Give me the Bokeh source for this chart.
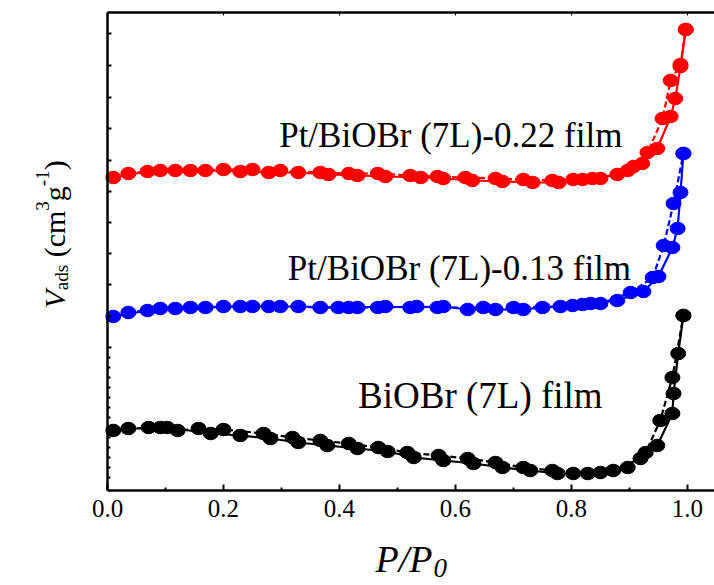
import math
from bokeh.plotting import figure
from bokeh.models import Range1d, LinearAxis, FixedTicker, Label, PrintfTickFormatter, CustomJSTickFormatter
from bokeh.embed import file_html
from bokeh.resources import INLINE

# ---------------- data (P/P0, V_ads in arbitrary units) ----------------
red_ads_x = [0.010, 0.069, 0.117, 0.169, 0.229, 0.278, 0.329, 0.381, 0.431, 0.479, 0.540, 0.579,
             0.629, 0.681, 0.733, 0.778, 0.819, 0.850, 0.897, 0.922, 0.948, 0.971, 0.979, 0.988, 0.997]
red_ads_y = [31.3, 31.9, 32.0, 32.0, 31.9, 31.8, 31.8, 31.6, 31.5, 31.4, 31.3, 31.2,
             31.0, 30.9, 30.8, 30.8, 31.1, 31.2, 32.0, 32.7, 34.2, 37.4, 39.2, 42.4, 46.1]
red_des_x = [0.036, 0.091, 0.143, 0.200, 0.250, 0.298, 0.367, 0.416, 0.466, 0.522, 0.569, 0.617,
             0.669, 0.717, 0.767, 0.803, 0.836, 0.879, 0.907, 0.931, 0.957, 0.971, 0.988, 0.997]
red_des_y = [31.7, 32.0, 32.0, 32.1, 32.1, 32.0, 31.8, 31.7, 31.7, 31.5, 31.4, 31.3,
             31.2, 31.1, 31.0, 31.1, 31.2, 31.6, 32.4, 33.8, 37.2, 41.0, 42.6, 46.1]

blue_ads_x = [0.010, 0.069, 0.117, 0.169, 0.229, 0.278, 0.329, 0.398, 0.431, 0.479, 0.522, 0.579,
              0.621, 0.669, 0.717, 0.750, 0.802, 0.833, 0.879, 0.924, 0.950, 0.974, 0.983, 0.988, 0.993]
blue_ads_y = [17.4, 18.0, 18.2, 18.3, 18.4, 18.4, 18.4, 18.3, 18.3, 18.4, 18.3, 18.4,
              18.1, 18.1, 18.1, 18.3, 18.5, 18.7, 19.0, 19.9, 21.4, 24.3, 26.2, 29.8, 33.7]
blue_des_x = [0.036, 0.091, 0.143, 0.200, 0.250, 0.298, 0.367, 0.416, 0.466, 0.533, 0.569, 0.648,
              0.700, 0.781, 0.819, 0.850, 0.902, 0.940, 0.959, 0.976, 0.993]
blue_des_y = [17.8, 18.2, 18.3, 18.4, 18.4, 18.4, 18.3, 18.3, 18.3, 18.4, 18.3, 18.3,
              18.3, 18.4, 18.6, 18.7, 19.8, 21.3, 24.5, 28.7, 33.7]

black_ads_x = [0.010, 0.071, 0.103, 0.178, 0.229, 0.281, 0.329, 0.379, 0.431, 0.483, 0.528, 0.579,
               0.631, 0.681, 0.729, 0.776, 0.828, 0.872, 0.919, 0.948, 0.974, 0.976, 0.984, 0.993]
black_ads_y = [6.0, 6.3, 6.3, 5.7, 5.5, 5.2, 4.8, 4.5, 4.2, 3.9, 3.3, 3.0,
               2.7, 2.3, 2.0, 1.7, 1.7, 2.0, 3.2, 4.5, 7.7, 9.7, 13.7, 17.5]
black_des_x = [0.036, 0.091, 0.121, 0.157, 0.200, 0.269, 0.319, 0.367, 0.416, 0.467, 0.517, 0.571,
               0.621, 0.669, 0.717, 0.767, 0.803, 0.850, 0.897, 0.928, 0.953, 0.974, 0.993]
black_des_y = [6.2, 6.3, 6.0, 6.2, 6.1, 5.7, 5.3, 5.0, 4.7, 4.3, 3.8, 3.5,
               3.2, 2.8, 2.3, 2.0, 1.7, 1.8, 2.3, 3.8, 7.0, 11.3, 17.5]

series_labels = ["Pt/BiOBr (7L)-0.22 film", "Pt/BiOBr (7L)-0.13 film", "BiOBr (7L) film"]
label_x = [0.296, 0.311, 0.432]
label_y = [35.5, 22.2, 9.5]
label_size = [35, 35, 37]

x_ticks = [0.0, 0.2, 0.4, 0.6, 0.8, 1.0]
x_minor = [0.1, 0.3, 0.5, 0.7, 0.9]
y_ticks = [45.7, 42.5, 39.3, 36.2, 33.0, 29.9, 26.8, 23.7, 20.6, 17.4, 14.3]
y_minor = [13.3, 12.3, 11.3, 10.3, 9.3, 8.3, 7.3, 6.3, 5.3, 4.3, 3.3, 2.3, 1.3]

X_END = 1.0466     # plot frame is cut at the right edge
Y_TOP = 47.8       # top frame line

FONT = "Liberation Serif"

p = figure(width=714, height=585, output_backend="svg", toolbar_location=None, title=None,
           x_range=Range1d(-0.1845, X_END), y_range=Range1d(-9.5, 49.0),
           x_axis_location=None, y_axis_location=None,
           min_border_left=0, min_border_right=0, min_border_top=0, min_border_bottom=0,
           outline_line_color=None, background_fill_color="white", border_fill_color="white")
p.xgrid.visible = False
p.ygrid.visible = False

# bottom axis
xa = LinearAxis(fixed_location=0, bounds=(0, X_END))
xa.ticker = FixedTicker(ticks=x_ticks, minor_ticks=x_minor)
xa.formatter = PrintfTickFormatter(format="%.1f")
xa.axis_line_width = 2.5
xa.major_tick_in = 6
xa.major_tick_out = 0
xa.minor_tick_in = 3
xa.minor_tick_out = 0
xa.major_tick_line_width = 2
xa.minor_tick_line_width = 2
xa.major_label_text_font = FONT
xa.major_label_text_font_size = "25px"
xa.major_label_text_color = "black"
xa.major_label_standoff = 9
p.add_layout(xa, "below")

# left axis
ya = LinearAxis(fixed_location=0, bounds=(0, Y_TOP))
ya.ticker = FixedTicker(ticks=y_ticks, minor_ticks=y_minor)
ya.formatter = CustomJSTickFormatter(code="return ''")
ya.axis_line_width = 2.5
ya.major_tick_in = 4
ya.major_tick_out = 0
ya.minor_tick_in = 3
ya.minor_tick_out = 0
ya.major_tick_line_width = 2
ya.minor_tick_line_width = 2
p.add_layout(ya, "left")

# top axis (frame line)
ta = LinearAxis(fixed_location=Y_TOP, bounds=(0, X_END))
ta.ticker = FixedTicker(ticks=x_ticks, minor_ticks=[])
ta.formatter = CustomJSTickFormatter(code="return ''")
ta.axis_line_width = 2.5
ta.major_tick_in = 3
ta.major_tick_out = 0
ta.major_tick_line_width = 1
p.add_layout(ta, "above")

for (ax, ay, dx, dy, c) in [(red_ads_x, red_ads_y, red_des_x, red_des_y, "#ff0000"),
                            (blue_ads_x, blue_ads_y, blue_des_x, blue_des_y, "#0000ff"),
                            (black_ads_x, black_ads_y, black_des_x, black_des_y, "#000000")]:
    p.line(ax, ay, line_color=c, line_width=2.2)
    p.line(dx, dy, line_color=c, line_width=2.2, line_dash="6 3")
    for xs, ys in ((ax, ay), (dx, dy)):
        p.ellipse(x=xs, y=ys, width=15, height=12.5, width_units="screen",
                  height_units="screen", fill_color=c, line_color=c)

for t, lx, ly, sz in zip(series_labels, label_x, label_y, label_size):
    p.add_layout(Label(x=lx, y=ly, text=t, text_font=FONT, text_font_size=f"{sz}px",
                       text_color="black", text_align="left", text_baseline="alphabetic"))

# x-axis title  P/P0
p.add_layout(Label(x=0.462, y=-6.8, text="P/P", text_font=FONT, text_font_size="38px",
                   text_color="black", text_font_style="italic", text_align="left",
                   text_baseline="alphabetic"))
p.add_layout(Label(x=0.462, y=-6.8, x_offset=58, y_offset=-9, text="0", text_font=FONT,
                   text_font_size="27px", text_color="black", text_font_style="italic",
                   text_align="left", text_baseline="alphabetic"))

# y-axis title  V_ads (cm3 g-1), rotated
x0 = (54 - 107) / 580.0
y0 = (490 - 308) / 10.0
F, f = 30, 19
# (text, font size, perpendicular shift, italic, advance in em incl. gap before next piece)
pieces = [("V", F, 0, True, 0.611), ("ads", f, 7, False, 1.333 + 0.25 * F / f),
          ("(cm", F, 0, False, 1.555), ("3", f, -12, False, 0.5),
          ("g", F, 0, False, 0.5), ("-1", f, -12, False, 0.833), (")", F, 0, False, 0.333)]
along = 0.0
for txt, sz, perp, it, adv in pieces:
    p.add_layout(Label(x=x0, y=y0, x_offset=perp, y_offset=along, text=txt, angle=math.pi / 2,
                       text_font=FONT, text_font_size=f"{sz}px", text_color="black",
                       text_font_style="italic" if it else "normal",
                       text_align="left", text_baseline="alphabetic"))
    along += adv * sz

open("out.html", "w").write(file_html(p, INLINE))
